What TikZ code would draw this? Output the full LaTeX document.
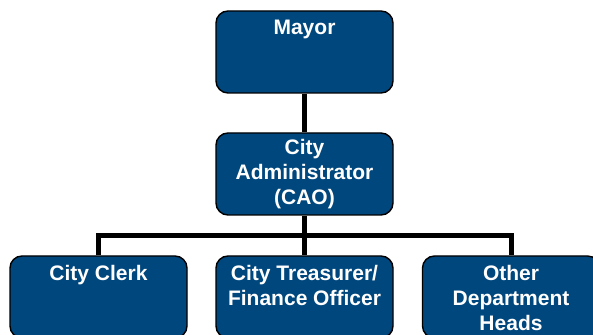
\documentclass[tikz,border=0pt]{standalone}
\usepackage{fontspec}
\setmainfont{Liberation Sans}
\definecolor{orgblue}{RGB}{0,71,125}
\tikzset{
  orgbox/.style={rectangle, rounded corners=12pt, draw=black, line width=1.4pt,
    fill=orgblue, minimum width=177pt, minimum height=82pt, inner sep=0pt},
  boxtext/.style={text=white, font=\fontsize{21}{25}\selectfont\bfseries,
    align=center, inner sep=2pt},
  toplabel/.style={boxtext, anchor=north, yshift=-8pt},
  link/.style={draw=black, line width=5pt, line join=miter}
}
\begin{document}
\begin{tikzpicture}[x=1pt, y=1pt]
  \useasboundingbox (0,0) rectangle (593,334);
  \clip (0,0) rectangle (593,334);

  % levels of the chart
  \node[orgbox, label={[toplabel]north:Mayor}] (mayor) at (304.5,282) {};
  \node[orgbox, boxtext] (cao) at (304.5,160) {City\\Administrator\\(CAO)};
  \node[orgbox, label={[toplabel]north:City Clerk}] (clerk) at (98.5,37) {};
  \node[orgbox, label={[toplabel]north:City Treasurer/\\Finance Officer}] (treas) at (304.5,37) {};
  \node[orgbox, label={[toplabel]north:Other\\Department\\Heads}] (other) at (511,37) {};

  % reporting lines
  \coordinate (bus) at (304.5,98);
  \draw[link] (mayor.south) -- (cao.north);
  \draw[link] (cao.south) -- (treas.north);
  \draw[link] (clerk.north) |- (bus) -| (other.north);
\end{tikzpicture}
\end{document}
